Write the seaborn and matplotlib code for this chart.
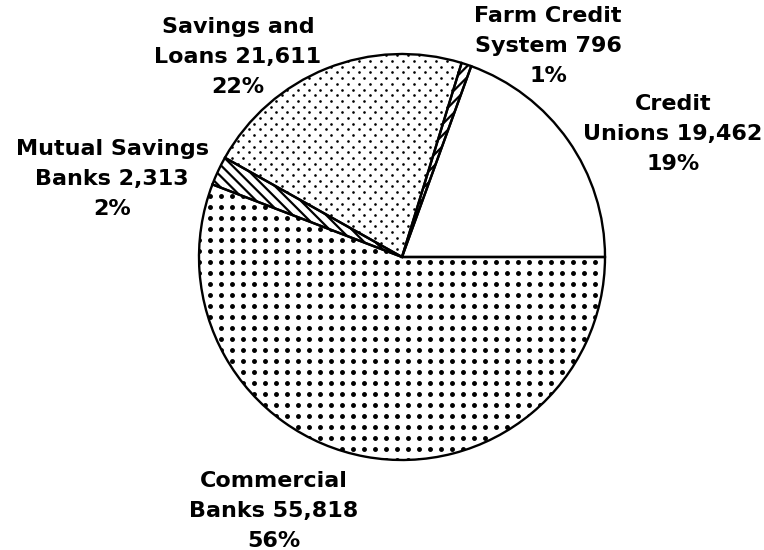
import numpy as np
import matplotlib
matplotlib.use("Agg")
import matplotlib.pyplot as plt
import seaborn as sns

# ---- data ----
categories = ["Credit Unions", "Farm Credit System", "Savings and Loans",
              "Mutual Savings Banks", "Commercial Banks"]
values = [19462, 796, 21611, 2313, 55818]
label_names = ["Credit\nUnions", "Farm Credit\nSystem", "Savings and\nLoans",
               "Mutual Savings\nBanks", "Commercial\nBanks"]

# ---- layout / style ----
W, H = 764, 550
center_px = (402, 257)
radius = 203
label_pos_px = [(673, 134), (548, 46), (238, 57), (112, 179), (274, 511)]
fills = ["none", "hatch_fwd", "fine_dots", "hatch_back", "big_dots"]

sns.set_theme(style="white")
plt.rcParams["font.family"] = ["DejaVu Sans"]
plt.rcParams["hatch.linewidth"] = 1.6
plt.rcParams["hatch.color"] = "black"

fig = plt.figure(figsize=(W / 100, H / 100), dpi=100)
ax = fig.add_axes([0, 0, 1, 1])

cx, cy = center_px[0], H - center_px[1]
wedges, _ = ax.pie(values, startangle=0, counterclock=True, center=(cx, cy),
                   radius=radius, frame=True,
                   wedgeprops=dict(facecolor="none", edgecolor="black", linewidth=1.7))
ax.set_xlim(0, W)
ax.set_ylim(0, H)
ax.set_aspect("equal")
ax.axis("off")


def dot_texture(wedge, dx, dy, stagger, size):
    xs, ys = [], []
    j = 0
    y = cy - radius - dy
    while y < cy + radius + dy:
        off = (dx / 2.0) if (stagger and j % 2) else 0.0
        row = np.arange(cx - radius - dx, cx + radius + dx, dx) + off
        xs.append(row)
        ys.append(np.full_like(row, y))
        y += dy
        j += 1
    sc = ax.scatter(np.concatenate(xs), np.concatenate(ys), s=size, c="black",
                    linewidths=0, zorder=3)
    sc.set_clip_path(wedge)


for w, f in zip(wedges, fills):
    if f == "hatch_fwd":
        w.set_hatch("///")
    elif f == "hatch_back":
        w.set_hatch("\\\\\\")
    elif f == "fine_dots":
        dot_texture(w, 11.0, 5.7, True, 3.6)
    elif f == "big_dots":
        dot_texture(w, 11.0, 11.0, False, 12.5)
    w.set_zorder(4)

total = sum(values)
for name, v, (lx, ly) in zip(label_names, values, label_pos_px):
    pct = round(100 * v / total)
    txt = f"{name} {v:,}\n{pct}%"
    ax.text(lx, H - ly, txt, ha="center", va="center", fontsize=16,
            fontweight="bold", linespacing=1.6, color="black", zorder=5)

fig.savefig("out.png", dpi=100, facecolor="white")
